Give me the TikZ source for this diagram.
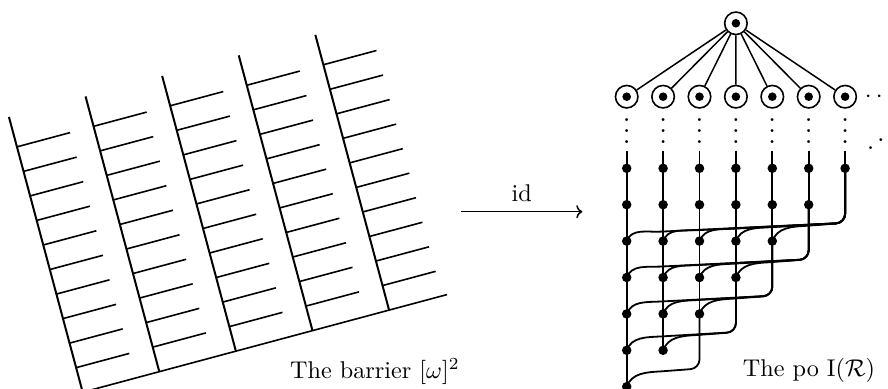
\documentclass[tikz,border=0pt]{standalone}
\usepackage{graphicx}
\usetikzlibrary{calc,arrows.meta}
\begin{document}
\begin{tikzpicture}[x=1pt,y=1pt,
  spine/.style={line width=2pt},
  tooth/.style={line width=1.6pt},
  ring/.style={circle,draw,line width=1.6pt,minimum size=22.5pt,inner sep=0pt,
    path picture={\fill (path picture bounding box.center) circle (4.3pt);}},
  blob/.style={circle,fill,inner sep=0pt,minimum size=9.5pt},
  link/.style={line width=1.5pt},
  conn/.style={line width=1.8pt},
  lbl/.style={inner sep=0pt}]
\useasboundingbox (0,0) rectangle (888,388);
\clip (0,0) rectangle (888,388);

% ---------- the barrier ----------
\begin{scope}[shift={(82.7,-4.2)},rotate=15]
  \draw[tooth] (0,0) -- (377.2,0);
  \foreach \i in {0,...,4}{
    \draw[spine] (79.3*\i,0) -- (79.3*\i,285);
    \foreach \m in {1,...,10}
      \draw[tooth] (79.3*\i,25.4*\m) -- ({79.3*\i+55},25.4*\m);
  }
\end{scope}
\node[lbl,anchor=base west] (lb1) at (290,9.7) {\scalebox{2.42}{The barrier $[\omega]^2$}};

% ---------- arrow ----------
\coordinate (a1) at (461,176.3);
\coordinate (a2) at (582.3,176.3);
\draw[link,-{To[length=6pt,width=13pt]}] (a1) -- (a2);
\node[lbl,anchor=base] (id) at (521.7,186.3) {\scalebox{2.42}{id}};

% ---------- the po ----------
\foreach \i in {0,...,6}{
  \pgfmathsetmacro{\xx}{626.7+36.4*\i}
  \pgfmathtruncatemacro{\last}{6-\i}
  \coordinate (top-\i) at (\xx,237.3);
  \node[ring] (c-\i) at (\xx,291.3) {};
  \node[anchor=base,inner sep=0pt] (v-\i) at (\xx,244.2) {\scalebox{2.75}{$\vdots$}};
  \foreach \rr in {0,...,\last}{
    \node[blob] (d-\i-\rr) at (\xx,{219.7-36.4*\rr}) {};
  }
  \draw[conn] (top-\i) -- (d-\i-\last.center);
}
\node[ring] (top) at (735.9,364.7) {};
\foreach \i in {0,...,6} \draw[link] (top) -- (c-\i);
\node[anchor=base,inner sep=0pt] (hd) at (879.3,285.8) {\scalebox{2.47}{$\cdots$}};
\node[anchor=base,inner sep=0pt] (dd) at (881,235.9) {\scalebox{2.67}{\reflectbox{$\ddots$}}};

\foreach \j in {2,...,6}{
  \pgfmathtruncatemacro{\rr}{6-\j}
  \pgfmathtruncatemacro{\tr}{8-\j}
  \pgfmathtruncatemacro{\kmax}{\j-2}
  \foreach \k in {0,...,\kmax}{
    \pgfmathsetmacro{\dyy}{(0.5-0.04*(\j-\k))*36.4}
    \draw[conn] (d-\k-\tr.center) to[out=70,in=183] ($(d-\k-\tr.center)+(34,\dyy)$)
      [rounded corners=9pt] -- ($(d-\j-\rr.center)+(0,-54.6)$) -- (d-\j-\rr.center);
  }
}
\node[lbl,anchor=base west] (lb2) at (742.7,11.3) {\scalebox{2.42}{The po I$(\mathcal{R})$}};
\end{tikzpicture}
\end{document}
